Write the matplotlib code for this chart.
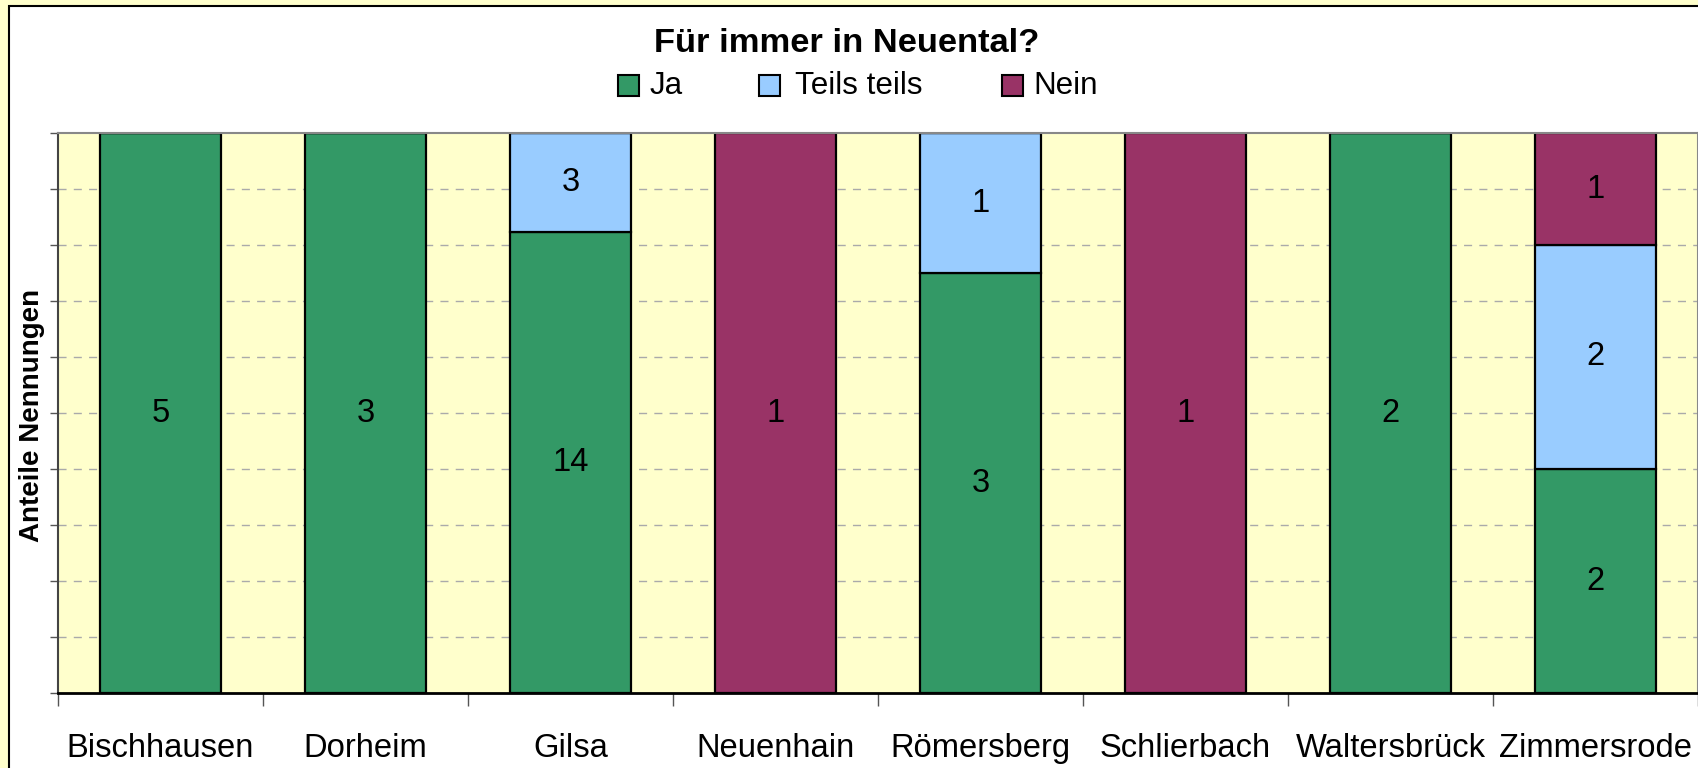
import matplotlib
matplotlib.use("Agg")
import matplotlib.pyplot as plt
import numpy as np
from matplotlib.patches import Rectangle

plt.rcParams['font.family'] = ['Liberation Sans', 'DejaVu Sans']

categories = ["Bischhausen", "Dorheim", "Gilsa", "Neuenhain", "Römersberg",
              "Schlierbach", "Waltersbrück", "Zimmersrode"]
series_names = ["Ja", "Teils teils", "Nein"]
ja = [5, 3, 14, 0, 3, 0, 2, 2]
teils = [0, 0, 3, 0, 1, 0, 0, 2]
nein = [0, 0, 0, 1, 0, 1, 0, 1]
colors = ["#339966", "#99CCFF", "#993366"]
title = "Für immer in Neuental?"
ylabel = "Anteile Nennungen"

W, H = 1699, 768
fig = plt.figure(figsize=(W / 100, H / 100), dpi=100)
fig.patch.set_facecolor("#FFFFCC")

# white chart area with black frame
frame = Rectangle((9.5 / W, -0.1), 1.2, (768 - 5.5) / H + 0.1, transform=fig.transFigure,
                  facecolor="white", edgecolor="black", linewidth=1.5, zorder=-10)
fig.patches.append(frame)

ax = fig.add_axes([58 / W, (H - 693) / H, (1698 - 58) / W, (693 - 133) / H])
ax.set_facecolor("#FFFFCC")

data = np.array([ja, teils, nein], dtype=float)
totals = data.sum(axis=0)
shares = data / totals
x = np.arange(len(categories))
bottom = np.zeros(len(categories))
for i, name in enumerate(series_names):
    ax.bar(x, shares[i], width=0.59, bottom=bottom, color=colors[i],
           edgecolor="black", linewidth=1.6, zorder=3, label=name)
    for j in range(len(categories)):
        if data[i, j] > 0:
            ax.text(x[j], bottom[j] + shares[i, j] / 2, f"{int(data[i, j])}",
                    ha="center", va="center", fontsize=23.5, zorder=4)
    bottom += shares[i]

ax.set_xlim(-0.5, len(categories) - 0.5)
ax.set_ylim(0, 1)

ax.set_yticks(np.arange(0, 1.01, 0.1))
ax.set_yticklabels([])
ax.tick_params(axis="y", length=5.5, width=1, color="#555555", direction="out")
for yv in np.arange(0.1, 0.95, 0.1):
    ax.axhline(yv, color="#AAAAAA", linewidth=1.0, linestyle=(0, (5.8, 5.2)), zorder=1)

ax.set_xticks(np.arange(-0.5, len(categories), 1.0))
ax.set_xticklabels([])
ax.tick_params(axis="x", which="major", length=9, width=1, color="#555555", direction="out")
ax.set_xticks(x, minor=True)
ax.set_xticklabels(categories, minor=True, fontsize=23.6)
ax.tick_params(axis="x", which="minor", length=0, pad=28.5)

for side in ["top", "right"]:
    ax.spines[side].set_color("#888888")
    ax.spines[side].set_linewidth(1.5)
ax.spines["left"].set_color("#444444")
ax.spines["left"].set_linewidth(1.5)
ax.spines["bottom"].set_color("black")
ax.spines["bottom"].set_linewidth(2)
for s in ax.spines.values():
    s.set_zorder(5)

ax.set_ylabel(ylabel, fontsize=20, fontweight="bold")
ax.yaxis.set_label_coords((45 - 58) / (1698 - 58), 0.495)

fig.text(846.5 / W, (H - 43) / H, title, ha="center", va="center",
         fontsize=24.8, fontweight="bold")

# legend
marker_x = [618, 759, 1002]
text_x = [650, 795, 1033]
ly = 85.5
for i, name in enumerate(series_names):
    fig.patches.append(Rectangle((marker_x[i] / W, (H - ly - 10.5) / H), 21 / W, 21 / H,
                                 transform=fig.transFigure, facecolor=colors[i],
                                 edgecolor="black", linewidth=1.5))
    fig.text(text_x[i] / W, (H - ly) / H, name, ha="left", va="center", fontsize=22.6)

fig.savefig("out.png", dpi=100, facecolor=fig.get_facecolor())
